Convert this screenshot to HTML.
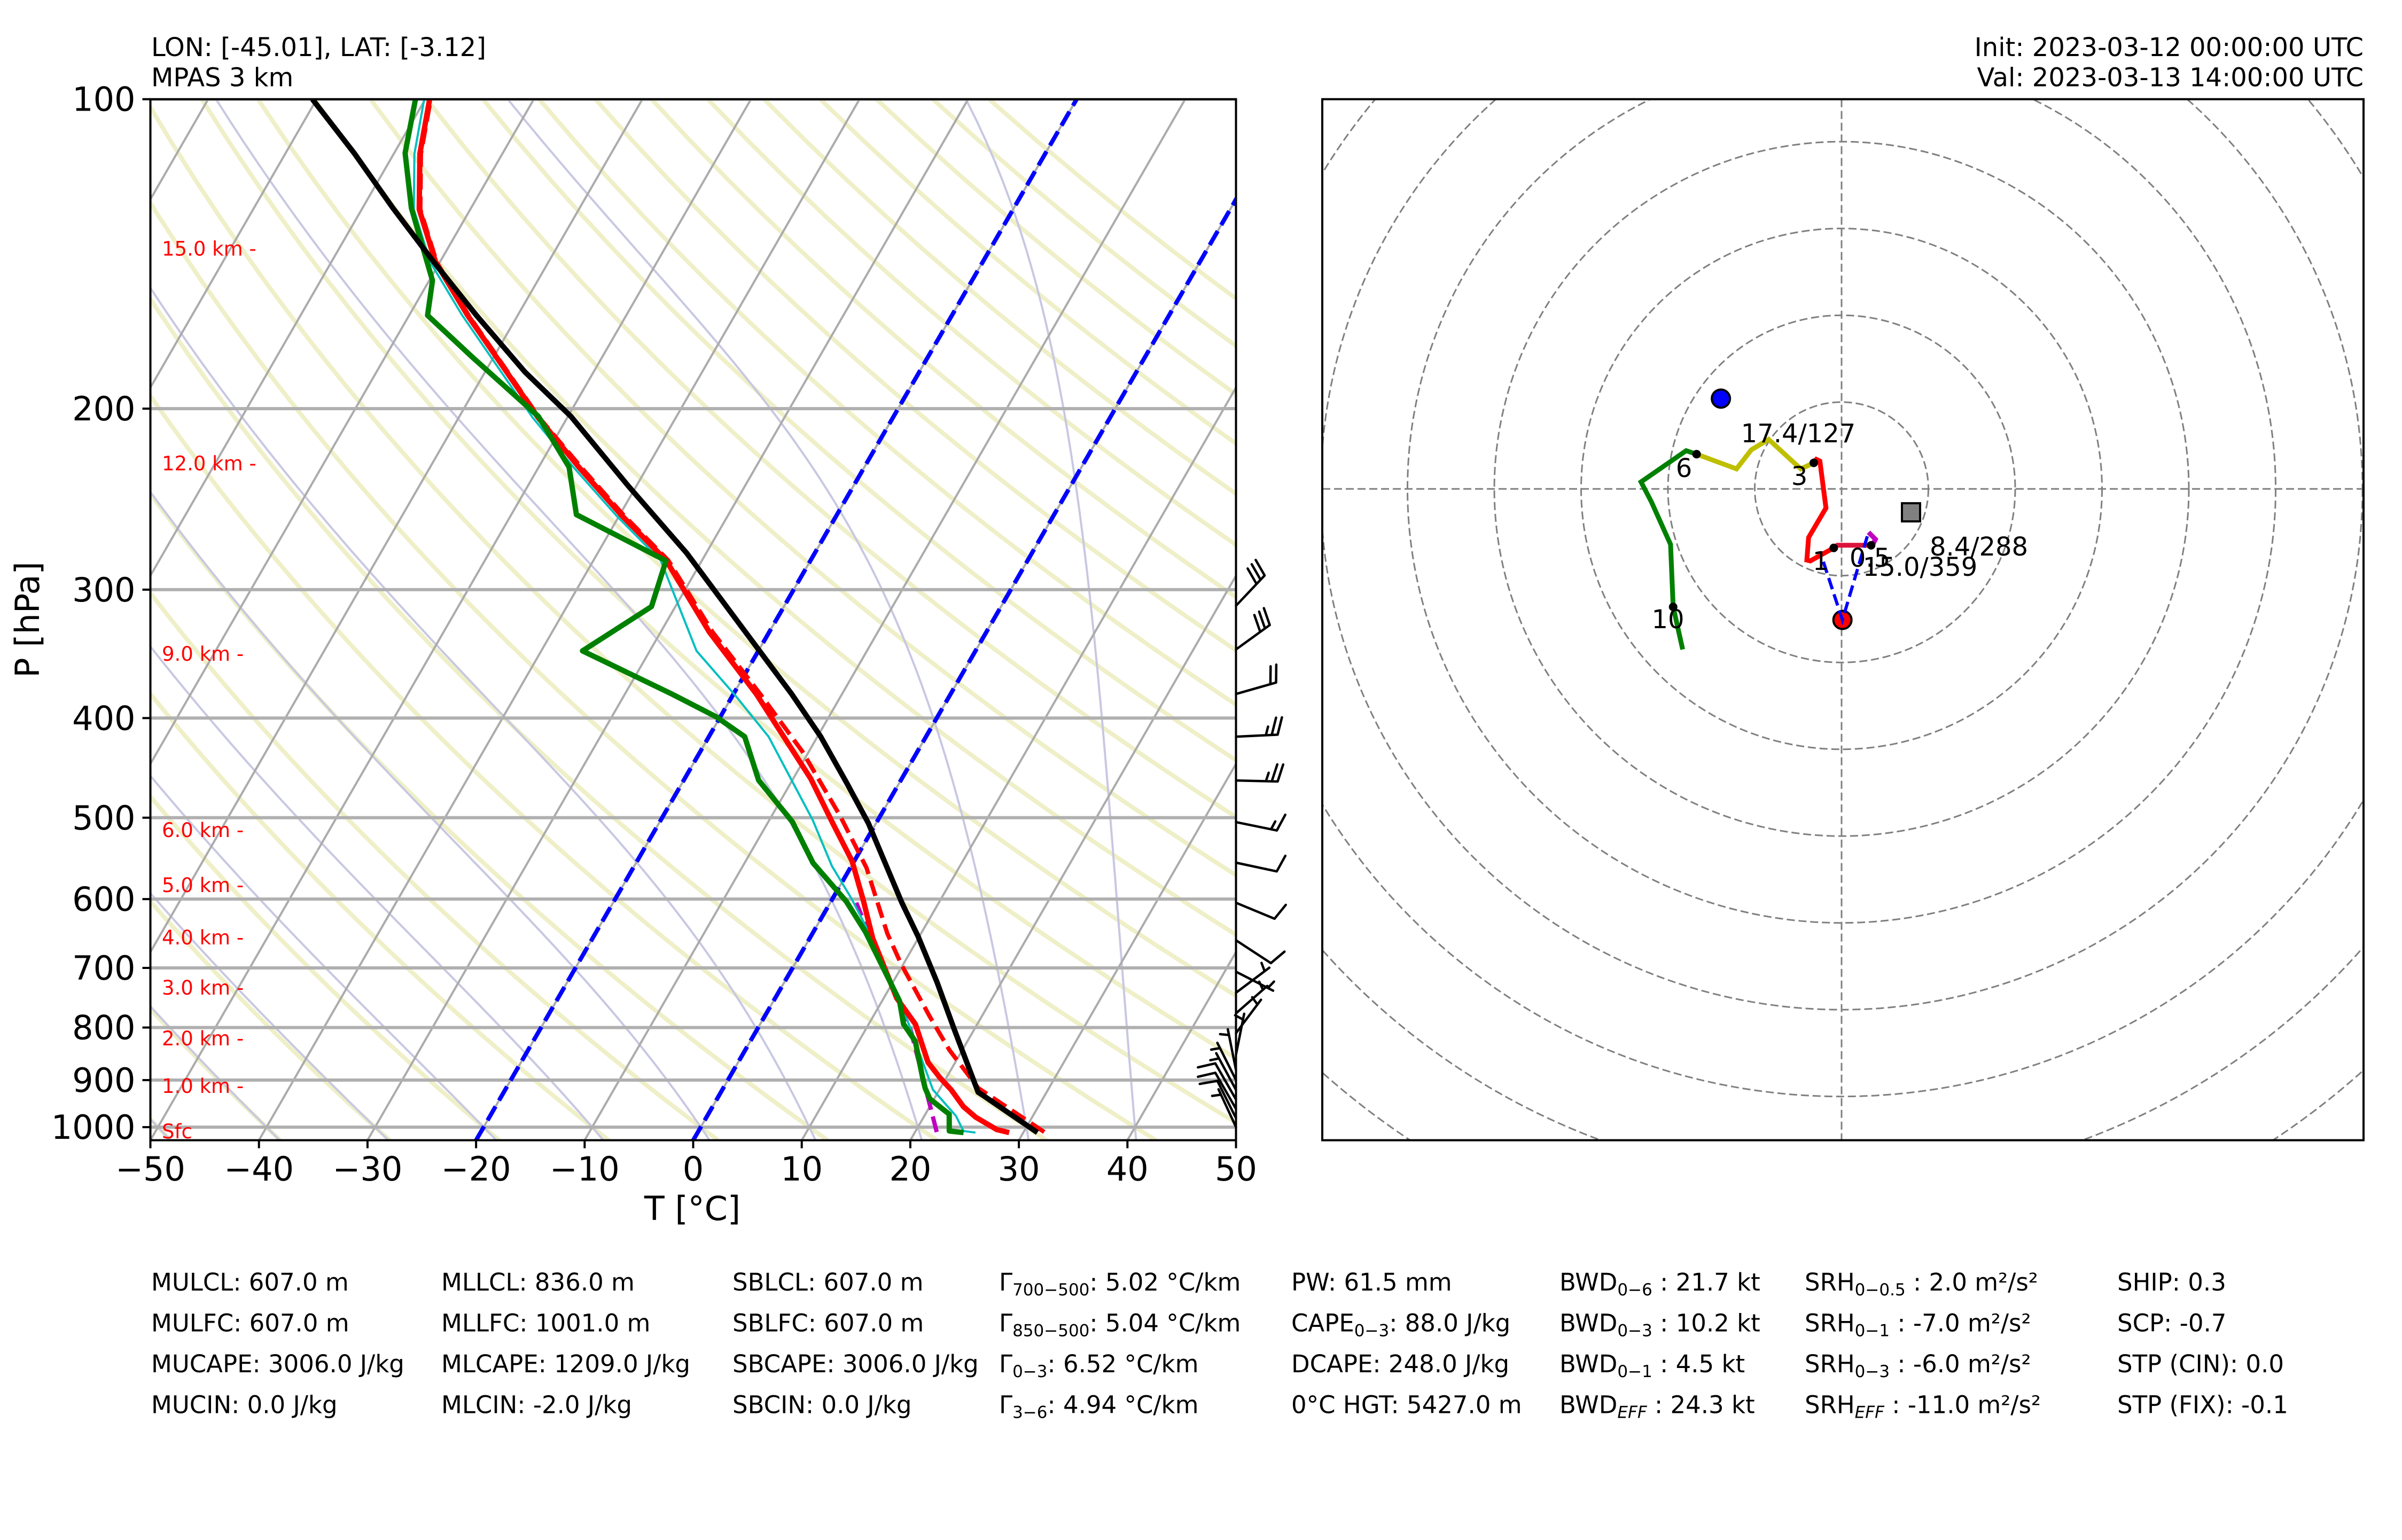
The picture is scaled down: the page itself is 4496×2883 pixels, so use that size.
<!DOCTYPE html>
<html><head><meta charset="utf-8"><title>Skew-T and Hodograph</title>
<style>
html,body{margin:0;padding:0;background:#fff;width:4496px;height:2883px;overflow:hidden;}
svg{display:block;font-family:"DejaVu Sans","Liberation Sans",sans-serif;}
</style></head>
<body>
<svg id="fig" xmlns="http://www.w3.org/2000/svg" width="4496" height="2883" viewBox="0 0 4496 2883">
<defs>
<clipPath id="skewclip"><rect x="281.5" y="185.7" width="2032" height="1948.9"/></clipPath>
<clipPath id="hodoclip"><rect x="2475" y="185.7" width="1949" height="1948.9"/></clipPath>
</defs>
<rect x="0" y="0" width="4496" height="2883" fill="#fff"/>
<g id="skewbg" clip-path="url(#skewclip)"></g>
<g id="skewdata" clip-path="url(#skewclip)"></g>
<g id="skewaxes"></g>
<g id="barbs"></g>
<g id="hodo" clip-path="url(#hodoclip)"></g>
<rect x="2475" y="185.7" width="1949" height="1948.9" fill="none" stroke="#000" stroke-width="4"/>

<text x="283" y="105" font-size="48">LON: [-45.01], LAT: [-3.12]</text>
<text x="283" y="161.7" font-size="48">MPAS 3 km</text>
<text x="4424" y="105" font-size="48" text-anchor="end">Init: 2023-03-12 00:00:00 UTC</text>
<text x="4424" y="161.7" font-size="48" text-anchor="end">Val: 2023-03-13 14:00:00 UTC</text>

<text x="1296" y="2284" font-size="62" text-anchor="middle">T [°C]</text>
<text transform="translate(73,1160) rotate(-90)" font-size="62" text-anchor="middle">P [hPa]</text>

<g font-size="37" fill="#ff0000">
<text x="303" y="478.5">15.0 km -</text>
<text x="303" y="880.3">12.0 km -</text>
<text x="303" y="1237">9.0 km -</text>
<text x="303" y="1567">6.0 km -</text>
<text x="303" y="1670">5.0 km -</text>
<text x="303" y="1768">4.0 km -</text>
<text x="303" y="1862">3.0 km -</text>
<text x="303" y="1957">2.0 km -</text>
<text x="303" y="2046">1.0 km -</text>
<text x="303" y="2131">Sfc</text>
</g>

<g font-size="45">
<text x="283" y="2416">MULCL: 607.0 m</text>
<text x="283" y="2492.5">MULFC: 607.0 m</text>
<text x="283" y="2569">MUCAPE: 3006.0 J/kg</text>
<text x="283" y="2645.5">MUCIN: 0.0 J/kg</text>

<text x="826" y="2416">MLLCL: 836.0 m</text>
<text x="826" y="2492.5">MLLFC: 1001.0 m</text>
<text x="826" y="2569">MLCAPE: 1209.0 J/kg</text>
<text x="826" y="2645.5">MLCIN: -2.0 J/kg</text>

<text x="1371" y="2416">SBLCL: 607.0 m</text>
<text x="1371" y="2492.5">SBLFC: 607.0 m</text>
<text x="1371" y="2569">SBCAPE: 3006.0 J/kg</text>
<text x="1371" y="2645.5">SBCIN: 0.0 J/kg</text>

<text x="1870" y="2416">Γ<tspan font-size="31" dy="9">700−500</tspan><tspan dy="-9">: 5.02 °C/km</tspan></text>
<text x="1870" y="2492.5">Γ<tspan font-size="31" dy="9">850−500</tspan><tspan dy="-9">: 5.04 °C/km</tspan></text>
<text x="1870" y="2569">Γ<tspan font-size="31" dy="9">0−3</tspan><tspan dy="-9">: 6.52 °C/km</tspan></text>
<text x="1870" y="2645.5">Γ<tspan font-size="31" dy="9">3−6</tspan><tspan dy="-9">: 4.94 °C/km</tspan></text>

<text x="2417" y="2416">PW: 61.5 mm</text>
<text x="2417" y="2492.5">CAPE<tspan font-size="31" dy="9">0−3</tspan><tspan dy="-9">: 88.0 J/kg</tspan></text>
<text x="2417" y="2569">DCAPE: 248.0 J/kg</text>
<text x="2417" y="2645.5">0°C HGT: 5427.0 m</text>

<text x="2919" y="2416">BWD<tspan font-size="31" dy="9">0−6</tspan><tspan dy="-9"> : 21.7 kt</tspan></text>
<text x="2919" y="2492.5">BWD<tspan font-size="31" dy="9">0−3</tspan><tspan dy="-9"> : 10.2 kt</tspan></text>
<text x="2919" y="2569">BWD<tspan font-size="31" dy="9">0−1</tspan><tspan dy="-9"> : 4.5 kt</tspan></text>
<text x="2919" y="2645.5">BWD<tspan font-size="31" dy="9" font-style="italic">EFF</tspan><tspan dy="-9"> : 24.3 kt</tspan></text>

<text x="3378" y="2416">SRH<tspan font-size="31" dy="9">0−0.5</tspan><tspan dy="-9"> : 2.0 m²/s²</tspan></text>
<text x="3378" y="2492.5">SRH<tspan font-size="31" dy="9">0−1</tspan><tspan dy="-9"> : -7.0 m²/s²</tspan></text>
<text x="3378" y="2569">SRH<tspan font-size="31" dy="9">0−3</tspan><tspan dy="-9"> : -6.0 m²/s²</tspan></text>
<text x="3378" y="2645.5">SRH<tspan font-size="31" dy="9" font-style="italic">EFF</tspan><tspan dy="-9"> : -11.0 m²/s²</tspan></text>

<text x="3963" y="2416">SHIP: 0.3</text>
<text x="3963" y="2492.5">SCP: -0.7</text>
<text x="3963" y="2569">STP (CIN): 0.0</text>
<text x="3963" y="2645.5">STP (FIX): -0.1</text>
</g>
</svg>
<script>
const tempP = [1012.3,1005.5,978,955,920,895,865,794,749,655,603,551,505,458,379,330,281,254,228,204,162,144,128,113,100];
const tempT = [28.7,27.4,24.8,23.1,21.1,19.4,17.5,14.3,11.2,5.8,3.0,-0.2,-4.1,-8.4,-17.9,-25.5,-33.3,-39.8,-46.3,-52.7,-64.7,-70.4,-74.7,-77.6,-79.6];
const dewP = [1012.3,1008.7,971.4,938.7,916.4,894.9,825,793.7,753.7,645.8,603,553.3,504.5,459.8,417,398.8,379.3,344.1,311.6,281.2,253.6,228,203.6,178.1,162.3,150.1,127.6,112.8,100];
const dewT = [24.5,23.1,22.2,19.6,18.6,17.8,15.2,13.2,11.6,4.8,1.4,-3.7,-7.8,-13.1,-16.7,-20.4,-25.6,-36.2,-32.2,-33.3,-44.0,-47.2,-52.7,-62.0,-68.3,-69.7,-75.5,-79.0,-80.9];
const wetP = [1012.3,1008.7,975,919.6,748.5,670.6,598.8,557.1,502.7,417,379.3,344.1,281,254,228,204,162,144,128,113,100];
const wetT = [25.6,24.4,22.9,19.4,11.4,6.8,1.7,-1.8,-6.0,-14.5,-19.9,-25.7,-33.8,-40.3,-46.8,-53.2,-65.2,-70.9,-75.2,-78.1,-80.1];
const virtP = [1010.9,916.4,841.3,780.2,694.1,648.1,559.6,498.0,431.1,379.3,330,281,254,228,204,162,144,128,113,100];
const virtT = [31.9,23.5,18.8,15.2,9.8,6.9,1.5,-3.7,-10.6,-17.5,-25.2,-33.1,-39.6,-46.1,-52.6,-64.6,-70.3,-74.6,-77.5,-79.5];
const parcelP = [1012.3,931.2,924.8,802.1,723.4,652.5,604.9,506.3,463,417,379.3,276.4,237.6,203.6,184.3,162.3,143.9,127.6,112.8,100];
const parcelT = [31.3,24.3,23.7,18.1,14.1,9.9,6.6,-0.7,-4.8,-9.7,-14.6,-31.8,-40.8,-49.7,-56.3,-63.8,-70.6,-77.2,-83.7,-90.4];
const dcapeP = [1010.9,807.3,707.5,604.9];
const dcapeT = [22.0,14.3,8.8,2.4];
const specialIsotherms = [0,-20];
const barbP = [311,343,379,417,460,505,553,605,658,706,740,775,810,850,880,900,920,940,960,980,1000];
const barbU = [-20.6,-24.3,-19.2,-25,-25,-14.7,-9.8,-9.2,-8.4,-4.5,-4,-4,-3,-1,1,3,3.5,4,4,3.5,3];
const barbV = [-21.8,-17.6,-5.5,-1.2,0.6,3.0,2.1,3.8,5.5,2.3,-3,-3.5,-4,-5,-5,-6,-6.5,-7,-7,-7,-6.5];
const hodo05U = [3.1,3.9,3.6,3.4];
const hodo05V = [-5.0,-5.8,-6.4,-6.5];
const hodo1U = [3.4,-0.5,-0.9];
const hodo1V = [-6.5,-6.5,-6.8];
const hodo3U = [-0.9,-3.6,-4.0,-3.8,-1.8,-2.5,-2.9,-3.2];
const hodo3V = [-6.8,-8.3,-8.2,-5.6,-2.2,3.2,3.4,3.0];
const hodo6U = [-3.2,-4.7,-8.4,-10.4,-12.1,-16.7];
const hodo6V = [3.0,2.3,5.7,4.5,2.3,4.0];
const hodo10U = [-16.7,-17.9,-23.1,-21.9,-19.7,-19.4,-18.3];
const hodo10V = [4.0,4.4,0.8,-1.5,-6.4,-13.6,-18.5];
const kmDotU = [3.4,-0.9,-3.2,-16.7,-19.4];
const kmDotV = [-6.5,-6.8,3.0,4.0,-13.6];
const rmU = [0.1], rmV = [-15.1];
const lmU = [-13.9], lmV = [10.4];
const meanU = [8.0], meanV = [-2.7];
const srLeftU = [-2.1,0.1,3.1];
const srLeftV = [-8.4,-15.1,-5.0];
const pTicks = [100,200,300,400,500,600,700,800,900,1000];
const tTicks = [-50,-40,-30,-20,-10,0,10,20,30,40,50];
const tTickLabels = ["−50","−40","−30","−20","−10","0","10","20","30","40","50"];

const NS = "http://www.w3.org/2000/svg";
const X0=281.5, X1=2313.5, YT=185.7, YB=2134.6, D=1924.4, K=0.5768, DX=20.32;
const PBOT = 100*Math.pow(10,(YB-YT)/D);
function yP(p){return YT + D*Math.log10(p/100);}
function xT(T,p){return X0 + (T+50)*DX + (YB - yP(p))*K;}
const HX=3447, HY=915.2, HS=16.25;
function hx(u){return HX+u*HS;}
function hy(v){return HY-v*HS;}
function mk(parent, tag, attrs){
  const el=document.createElementNS(NS,tag);
  for(const k in attrs) el.setAttribute(k,attrs[k]);
  parent.appendChild(el); return el;
}
const bg=document.getElementById('skewbg');
const sd=document.getElementById('skewdata');
const ax=document.getElementById('skewaxes');
const bb=document.getElementById('barbs');
const hg=document.getElementById('hodo');

for(let t0=-50;t0<=200;t0+=10){
  const th=t0+273.15; let d="";
  for(let p=PBOT;p>=99;p-=10){const T=th*Math.pow(p/1000,0.2857)-273.15; d+=(d?"L":"M")+xT(T,p).toFixed(1)+","+yP(p).toFixed(1);}
  const el=mk(bg,'path',{d:d,fill:'none',stroke:'#efefc8','stroke-width':8});
  
  
}
function dTdp(T,p){const c=T-273.15;const e=6.112*Math.exp(17.67*c/(c+243.5));const rs=0.622*e/(p-e);const Lv=2.501e6,Rd=287.04,Cp=1005.7;
  return (Rd*T+Lv*rs)/(p*(Cp+Lv*Lv*rs*0.622/(Rd*T*T)));}
for(let t0=-50;t0<=40;t0+=10){
  let Tb=t0+273.15, pb=1000; const down=[];
  while(pb<PBOT){const h=Math.min(5,PBOT-pb);const k1=dTdp(Tb,pb);const k2=dTdp(Tb+k1*h,pb+h);Tb+=h*(k1+k2)/2;pb+=h;down.push([Tb-273.15,pb]);}
  down.reverse(); const pts=down.concat([[t0,1000]]);
  let Tu=t0+273.15, pu=1000;
  while(pu>100){const h=-5;const k1=dTdp(Tu,pu);const k2=dTdp(Tu+k1*h,pu+h);Tu+=h*(k1+k2)/2;pu+=h;pts.push([Tu-273.15,pu]);}
  let d=""; pts.forEach(q=>{d+=(d?"L":"M")+xT(q[0],q[1]).toFixed(1)+","+yP(q[1]).toFixed(1);});
  const el=mk(bg,'path',{d:d,fill:'none',stroke:'#c8c8e2','stroke-width':4});
  
  
}
for(let T=-160;T<=50;T+=10){
  let x1=xT(T,PBOT), y1=YB, x2=xT(T,100), y2=YT;
  const el=mk(bg,'line',{x1:x1,y1:y1,x2:x2,y2:y2,stroke:'#ababab','stroke-width':4});
  
  
}
pTicks.forEach(p=>{
  const el=mk(bg,'line',{x1:X0,y1:yP(p),x2:X1,y2:yP(p),stroke:'#b0b0b0','stroke-width':6});
  
  
});
specialIsotherms.forEach(T=>{
  const el=mk(bg,'line',{x1:xT(T,PBOT),y1:YB,x2:xT(T,100),y2:YT,stroke:'#0000ff','stroke-width':8,'stroke-dasharray':'30 13'});
  
  
});
function profile(P,T,color,w,dash,name){
  let d=""; for(let i=0;i<P.length;i++){d+=(i?"L":"M")+xT(T[i],P[i]).toFixed(1)+","+yP(P[i]).toFixed(1);}
  const at={d:d,fill:'none',stroke:color,'stroke-width':w,'stroke-linejoin':'round'};
  if(dash) at['stroke-dasharray']=dash;
  const el=mk(sd,'path',at);
  
  
}
profile(virtP,virtT,'#ff0000',8,'30 13','virtual-temperature-line');
profile(dcapeP,dcapeT,'#bf00bf',8,'30 13','downdraft-parcel-line');
profile(wetP,wetT,'#00bfbf',4,null,'wetbulb-line');
profile(tempP,tempT,'#ff0000',10,null,'temperature-line');
profile(dewP,dewT,'#008000',10,null,'dewpoint-line');
profile(parcelP,parcelT,'#000000',10,null,'parcel-line');

{
  const el=mk(ax,'rect',{x:X0,y:YT,width:X1-X0,height:YB-YT,fill:'none',stroke:'#000','stroke-width':4});
  
  
}
pTicks.forEach(p=>{
  const t=mk(ax,'line',{x1:X0-15,y1:yP(p),x2:X0,y2:yP(p),stroke:'#000','stroke-width':4});
  
  
  const l=mk(ax,'text',{x:X0-28,y:yP(p)+22,'font-size':62,'text-anchor':'end'});
  l.textContent=String(p);
  
  
});
tTicks.forEach((T,i)=>{
  const x=X0+(T+50)*DX;
  const t=mk(ax,'line',{x1:x,y1:YB,x2:x,y2:YB+15,stroke:'#000','stroke-width':4});
  
  
  const l=mk(ax,'text',{x:x,y:2210,'font-size':62,'text-anchor':'middle'});
  l.textContent=tTickLabels[i];
  
  
});

const L=78, SP=11, BL=32;
for(let i=0;i<barbP.length;i++){
  const u=barbU[i], v=barbV[i]; const s=Math.hypot(u,v);
  const bx=X1, by=yP(barbP[i]);
  const dx=-u/s, dy=v/s; const px=dy, py=-dx;
  const tx=bx+dx*L, ty=by+dy*L;
  let d="M"+bx.toFixed(1)+","+by.toFixed(1)+"L"+tx.toFixed(1)+","+ty.toFixed(1);
  const s5=Math.round(s/5)*5; let n10=Math.floor(s5/10); const half=(s5%10)===5;
  let k=0;
  for(let j=0;j<n10;j++,k++){const ox=tx-dx*SP*k, oy=ty-dy*SP*k;
    d+="M"+ox.toFixed(1)+","+oy.toFixed(1)+"L"+(ox+px*BL+dx*BL*0.3).toFixed(1)+","+(oy+py*BL+dy*BL*0.3).toFixed(1);}
  if(half){ if(k===0)k=1; const ox=tx-dx*SP*k, oy=ty-dy*SP*k;
    d+="M"+ox.toFixed(1)+","+oy.toFixed(1)+"L"+(ox+px*BL*0.5+dx*BL*0.15).toFixed(1)+","+(oy+py*BL*0.5+dy*BL*0.15).toFixed(1);}
  const el=mk(bb,'path',{d:d,fill:'none',stroke:'#000','stroke-width':4.5,'stroke-linecap':'round'});
  
  
}

for(let r=1;r<=10;r++){
  const el=mk(hg,'circle',{cx:HX,cy:HY,r:r*10*HS,fill:'none',stroke:'#808080','stroke-width':3,'stroke-dasharray':'15 7'});
  
  
}
{
  const a=mk(hg,'line',{x1:2475,y1:HY,x2:4424,y2:HY,stroke:'#808080','stroke-width':3,'stroke-dasharray':'15 7'});
  
  
  const b=mk(hg,'line',{x1:HX,y1:185.7,x2:HX,y2:2134.6,stroke:'#808080','stroke-width':3,'stroke-dasharray':'15 7'});
  
  
}
function hline(U,V,color,w,dash,name){
  let d=""; for(let i=0;i<U.length;i++){d+=(i?"L":"M")+hx(U[i]).toFixed(1)+","+hy(V[i]).toFixed(1);}
  const at={d:d,fill:'none',stroke:color,'stroke-width':w};
  if(dash) at['stroke-dasharray']=dash;
  const el=mk(hg,'path',at);
  
  
}
hline(hodo05U,hodo05V,'#bf00bf',9,null,'hodograph-0-0.5km');
hline(hodo1U,hodo1V,'#dc143c',9,null,'hodograph-0.5-1km');
hline(hodo3U,hodo3V,'#ff0000',9,null,'hodograph-1-3km');
hline(hodo6U,hodo6V,'#bfbf00',9,null,'hodograph-3-6km');
hline(hodo10U,hodo10V,'#008000',9,null,'hodograph-6-10km');
for(let i=0;i<kmDotU.length;i++){
  const el=mk(hg,'circle',{cx:hx(kmDotU[i]),cy:hy(kmDotV[i]),r:8,fill:'#000'});
  
  
}
{
  const a=mk(hg,'circle',{cx:hx(rmU[0]),cy:hy(rmV[0]),r:17,fill:'#ff0000',stroke:'#000','stroke-width':4});
  
  
  const b=mk(hg,'circle',{cx:hx(lmU[0]),cy:hy(lmV[0]),r:17,fill:'#0000ff',stroke:'#000','stroke-width':4});
  
  
  const c=mk(hg,'rect',{x:hx(meanU[0])-17,y:hy(meanV[0])-17,width:34,height:34,fill:'#808080',stroke:'#000','stroke-width':4});
  
  
  hline(srLeftU,srLeftV,'#0000ff',6,'22 10','storm-relative-lines');
}
const hodoLabels=[["17.4/127",3366,828],["6",3152,893],["3",3368,908],["1",3408,1067],["0.5",3500,1061],["10",3122,1176],["8.4/288",3704,1040],["15.0/359",3594,1078]];
hodoLabels.forEach(t=>{
  const el=mk(hg,'text',{x:t[1],y:t[2],'font-size':48,'text-anchor':'middle'});
  el.textContent=t[0];
  
  
});
</script>
</body></html>
